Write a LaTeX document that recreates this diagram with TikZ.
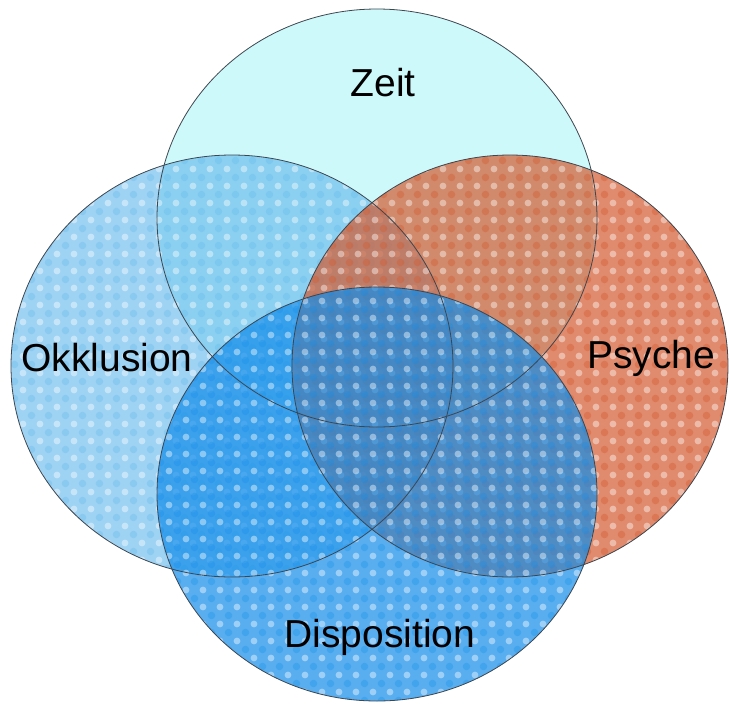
\documentclass[tikz,border=0pt]{standalone}
\usepackage{fontspec}
\setmainfont{Liberation Sans}
\definecolor{zeitc}{HTML}{CDF9FB}
\definecolor{okkc}{HTML}{5FB6EB}
\definecolor{psyc}{HTML}{D45B30}
\definecolor{dispc}{HTML}{138DEA}
\definecolor{rimc}{HTML}{3E4650}
\begin{document}
\begin{tikzpicture}[x=1pt,y=-1pt,
  rim/.style={draw=rimc,line width=0.8pt},
  lbl/.style={font=\fontsize{39}{44}\selectfont,text=black,inner sep=0pt},
  lite/.style={fill=white,opacity=0.42},
  dark/.style={opacity=0.3}]
\useasboundingbox (0,0) rectangle (729,705);
\fill[white] (0,0) rectangle (729,705);
\coordinate (cz) at (377,218);
\coordinate (co) at (232,366);
\coordinate (cp) at (510,366);
\coordinate (cd) at (377,494);
% Zeit
\fill[zeitc] (cz) ellipse [x radius=220pt, y radius=209pt];
% Okklusion
\fill[okkc,fill opacity=0.6] (co) ellipse [x radius=221pt, y radius=211pt];
\begin{scope}
\clip (co) ellipse [x radius=221pt, y radius=211pt];
\foreach \i in {0,...,27}{\foreach \j in {0,...,26}{
  \fill[lite] (6+\i*17,152+\j*17) circle (3.4pt);
  \fill[okkc,dark] (14.5+\i*17,160.5+\j*17) circle (3.8pt);}}
\end{scope}
% Psyche
\fill[psyc,fill opacity=0.7] (cp) ellipse [x radius=218pt, y radius=211pt];
\begin{scope}
\clip (cp) ellipse [x radius=218pt, y radius=211pt];
\foreach \i in {0,...,26}{\foreach \j in {0,...,26}{
  \fill[lite] (290+\i*17,152+\j*17) circle (3.4pt);
  \fill[psyc,opacity=0.4] (298.5+\i*17,160.5+\j*17) circle (3.8pt);}}
\end{scope}
% Disposition
\fill[dispc,fill opacity=0.7] (cd) ellipse [x radius=220pt, y radius=207pt];
\begin{scope}
\clip (cd) ellipse [x radius=220pt, y radius=207pt];
\foreach \i in {0,...,26}{\foreach \j in {0,...,25}{
  \fill[lite] (152+\i*17,284+\j*17) circle (3.4pt);
  \fill[dispc,dark] (160.5+\i*17,292.5+\j*17) circle (3.8pt);}}
\end{scope}
% outlines
\draw[rim] (cz) ellipse [x radius=220pt, y radius=209pt];
\draw[rim] (co) ellipse [x radius=221pt, y radius=211pt];
\draw[rim] (cp) ellipse [x radius=218pt, y radius=211pt];
\draw[rim] (cd) ellipse [x radius=220pt, y radius=207pt];
% labels
\node[lbl] (zeit) at (383,83) {Zeit};
\node[lbl] (okk) at (107,358) {Okklusion};
\node[lbl] (psy) at (651,358) {Psyche};
\node[lbl] (disp) at (380,637) {Disposition};
\end{tikzpicture}
\end{document}
